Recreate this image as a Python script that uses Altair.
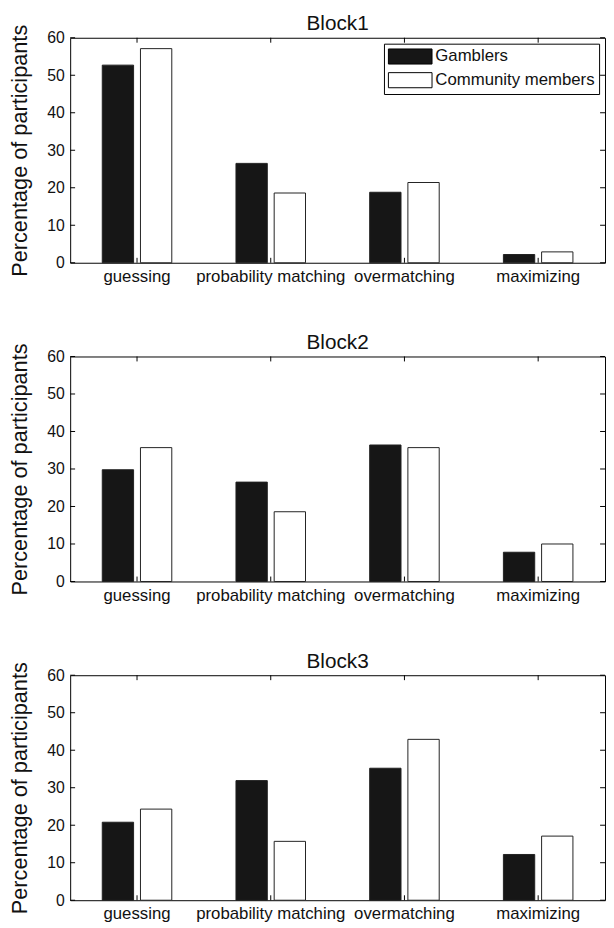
import altair as alt
import pandas as pd

# ---- data ----
categories = ["guessing", "probability matching", "overmatching", "maximizing"]
groups = ["Gamblers", "Community members"]
blocks = ["Block1", "Block2", "Block3"]

gamblers_b1 = [52.7, 26.5, 18.8, 2.2]
community_b1 = [57.1, 18.6, 21.4, 2.9]
gamblers_b2 = [29.8, 26.5, 36.4, 7.8]
community_b2 = [35.7, 18.6, 35.7, 10.0]
gamblers_b3 = [20.8, 31.9, 35.2, 12.2]
community_b3 = [24.3, 15.7, 42.9, 17.1]

y_ticks = [0, 10, 20, 30, 40, 50, 60]

FONT = "Liberation Sans"
W, H = 542, 228


def panel(title, g_vals, c_vals, show_legend):
    df = pd.DataFrame({
        "category": categories * 2,
        "group": [groups[0]] * len(categories) + [groups[1]] * len(categories),
        "value": g_vals + c_vals,
    })
    x_enc = alt.X(
        "category:N", sort=categories,
        scale=alt.Scale(paddingInner=0.48, paddingOuter=0.24),
        axis=alt.Axis(title=None, labelAngle=0, ticks=False, domain=False,
                      grid=False, labelFontSize=17, labelPadding=6,
                      labelColor="#111", labelFont=FONT),
    )
    y_enc = alt.Y(
        "value:Q", scale=alt.Scale(domain=[0, 60], nice=False, zero=True),
        axis=alt.Axis(values=y_ticks, title="Percentage of participants",
                      ticks=False, domain=False, grid=False, labelOverlap=False,
                      labelFontSize=16, labelPadding=6, labelColor="#111",
                      labelFont=FONT, titleFont=FONT, titleFontSize=22,
                      titleFontWeight="normal", titleColor="#111",
                      titlePadding=15),
    )
    legend = None
    if show_legend:
        legend = alt.Legend(
            title=None, orient="top-right", offset=6, padding=4,
            strokeColor="black", fillColor="white",
            labelFont=FONT, labelFontSize=17, labelColor="#111",
            labelOffset=30, rowPadding=4, labelLimit=400,
            symbolType="M-1,-0.9H4.2V0.9H-1Z", symbolSize=289,
            symbolStrokeColor="black", symbolStrokeWidth=1,
        )
    bars = alt.Chart(df).mark_bar(stroke="#222", strokeWidth=1).encode(
        x=x_enc,
        xOffset=alt.XOffset("group:N", sort=groups,
                            scale=alt.Scale(paddingInner=0.18)),
        y=y_enc,
        fill=alt.Fill("group:N", sort=groups,
                      scale=alt.Scale(domain=groups, range=["#161616", "#ffffff"]),
                      legend=legend),
    )

    yt = pd.DataFrame({"value": y_ticks})
    xt = pd.DataFrame({"category": categories})
    left_ticks = alt.Chart(yt).mark_rule(color="black", strokeWidth=1).encode(
        y=y_enc, x=alt.value(0), x2=alt.value(5))
    right_ticks = alt.Chart(yt).mark_rule(color="black", strokeWidth=1).encode(
        y=y_enc, x=alt.value(W - 5), x2=alt.value(W))
    bottom_ticks = alt.Chart(xt).mark_rule(color="black", strokeWidth=1).encode(
        x=x_enc, y=alt.value(H), y2=alt.value(H - 5))
    top_ticks = alt.Chart(xt).mark_rule(color="black", strokeWidth=1).encode(
        x=x_enc, y=alt.value(0), y2=alt.value(5))

    return alt.layer(bars, left_ticks, right_ticks, bottom_ticks, top_ticks).properties(
        width=W, height=H,
        title=alt.TitleParams(title, font=FONT, fontSize=21, fontWeight="normal",
                              color="#111", offset=-10),
    )


chart = alt.vconcat(
    panel(blocks[0], gamblers_b1, community_b1, True),
    panel(blocks[1], gamblers_b2, community_b2, False),
    panel(blocks[2], gamblers_b3, community_b3, False),
    spacing=46,
).properties(
    padding={"left": 0, "top": -2, "right": 0, "bottom": 0},
    background="white",
).configure_view(
    stroke="black", strokeWidth=1,
)

chart.save("out.html", embed_options={"renderer": "svg", "actions": False})
